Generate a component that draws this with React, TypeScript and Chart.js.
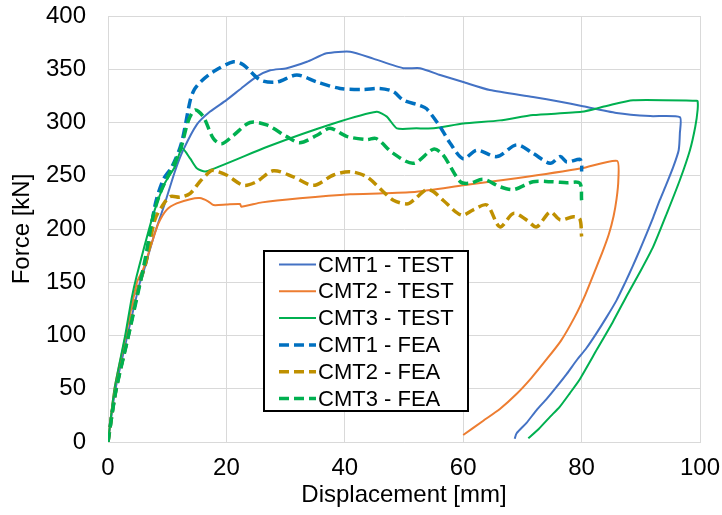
import React, { useEffect, useRef } from 'react';
import { Chart, registerables } from 'chart.js';

Chart.register(...registerables);

// ---- Data (displacement [mm], force [kN]) ----
const seriesLabels = ['CMT1 - TEST', 'CMT2 - TEST', 'CMT3 - TEST', 'CMT1 - FEA', 'CMT2 - FEA', 'CMT3 - FEA'];

const cmt1TestX = [0, 1.2, 3.2, 5.3, 6.0, 7.9, 9.6, 11.3, 12.7, 15, 17.2, 20, 22.5, 25.1, 27.4, 30.2, 33.6, 36.9, 40.9, 44.8, 49.9, 52.7, 56.1, 60, 64.5, 71.8, 76.4, 80, 85.9, 91.6, 96.6, 96.6, 96.4, 95.5, 94.4, 93.2, 92.1, 91, 89.8, 88.6, 87.3, 85.9, 84.2, 82.5, 80.8, 79.2, 77.5, 75.8, 74.1, 72.4, 70.7, 69, 68.7];
const cmt1TestY = [0, 48, 98, 148, 160, 196, 224, 254, 274, 298, 310, 321, 332, 343, 349, 351, 357, 365, 366.5, 360, 351, 351, 344.6, 338, 330.5, 324, 319.5, 315.5, 309, 306, 305, 290, 274, 258.5, 243, 227, 211, 196, 180, 164.6, 149, 133, 117, 102, 88, 77, 64, 52, 40.5, 30, 18, 8, 3];

const cmt2TestX = [0, 1.1, 3.0, 4.9, 6.0, 7.4, 8.5, 9.9, 11.6, 13.9, 15.5, 16.9, 17.8, 20, 22.3, 22.5, 26, 32.4, 40.9, 46.5, 52.1, 60, 69, 80, 86, 86.2, 85.9, 85.4, 84.6, 83.5, 82.2, 80.6, 78.8, 76.5, 74, 71.5, 69, 66.2, 63.4, 60];
const cmt2TestY = [0, 50, 100, 150, 163, 187, 205, 218, 224, 228, 229, 226, 222.5, 223, 223.5, 221, 225, 228.8, 232.6, 233.5, 235, 241, 247.6, 257, 264, 245, 228, 212, 195, 178, 160, 138, 117, 95, 77, 60, 45, 31, 20, 6.6];

const cmt3TestX = [0, 1.1, 2.9, 4.0, 4.8, 7.7, 9.6, 11.3, 12.5, 13.9, 15, 16.5, 26.8, 38.1, 45.4, 47.1, 48.8, 52.1, 55, 60, 66.2, 71.8, 80, 84.2, 88.7, 99.4, 99.6, 99.6, 99.2, 98.3, 96.6, 94.4, 92.1, 90, 87.8, 85.3, 82.6, 79.7, 78, 76.3, 74.7, 72.8, 71];
const cmt3TestY = [0, 50, 100, 135, 155, 214.7, 243, 258.5, 276, 266, 257, 254, 277, 299, 310, 305.5, 294.5, 294.5, 294.5, 299, 302, 307, 310, 315.5, 321, 320.5, 320, 312, 296, 274, 246, 214.7, 183.4, 161, 139, 113, 87, 59, 45.7, 33, 23.8, 12.5, 3.5];

const cmt1FeaX = [0, 1.3, 3.3, 5.3, 6.5, 7.9, 9.3, 10.8, 12.4, 13.9, 14.6, 15.8, 17.8, 21.2, 22.9, 25.7, 28.5, 31.9, 35.3, 39.2, 43.1, 45.9, 48.2, 49.9, 52.7, 53.8, 56.1, 57.8, 60, 62.3, 65.7, 69, 71.8, 74.7, 76.4, 77.5, 79.7, 80, 80];
const cmt1FeaY = [0, 48, 97, 148, 171, 221, 246, 258.5, 280.5, 321, 331, 339, 347.7, 357, 354, 340, 338, 344.6, 338, 332, 331, 332, 329, 321, 316, 313, 296, 280.5, 266, 274, 268, 279, 271, 261.7, 268, 263, 265.4, 262, 254];

const cmt2FeaX = [0, 1.3, 3.3, 5.3, 6.5, 7.9, 9.1, 10.5, 12.2, 13.9, 15.5, 17.2, 17.8, 20, 22.9, 25.1, 27.9, 31.3, 34.7, 38.1, 40.9, 43.7, 46.5, 48.2, 50.5, 51.6, 53.8, 55, 56.6, 59.7, 61.7, 64, 66.2, 68.5, 70.7, 72.4, 74.7, 76.4, 78.6, 79.7, 80];
const cmt2FeaY = [0, 48, 97, 148, 171, 208.5, 221, 230.4, 229.8, 233.5, 244.4, 253.8, 255, 250.7, 241, 244.4, 254.7, 249, 241, 250.7, 253.8, 249, 235, 227, 223.5, 227, 237, 235, 227, 213, 218, 222.5, 202, 214.7, 208.5, 202, 216, 208.5, 211.5, 209.5, 193];

const cmt3FeaX = [0, 1.3, 3.3, 5.3, 6.25, 7.6, 8.8, 10.5, 12.2, 13.6, 14.7, 16.1, 17.8, 19.2, 21.2, 24, 26.8, 30.2, 32.4, 35.3, 37.5, 40.3, 43.7, 45.3, 48.2, 51.6, 55, 56.6, 59.5, 61.1, 63.4, 66.2, 68.5, 71.8, 74.7, 77.5, 79.7, 80];
const cmt3FeaY = [0, 47, 96, 146, 171, 211.5, 233.5, 253.8, 274, 302, 311.7, 305.5, 285, 280, 288, 300, 297.7, 286.7, 281, 288, 294.5, 287, 284, 285, 271, 261.7, 275, 269.5, 244.4, 243, 246.7, 239.7, 237, 244.4, 244.4, 243.5, 243, 227];

const xTickMin = 0;
const xTickMax = 100;
const xTickStep = 20;
const yTickMin = 0;
const yTickMax = 400;
const yTickStep = 50;

const FONT = "'Liberation Sans', Arial, sans-serif";

function pts(xs: number[], ys: number[]) {
  return xs.map((x, i) => ({ x, y: ys[i] }));
}

const legendPlugin = {
  id: 'boxLegend',
  afterDraw(chart: any) {
    const ctx = chart.ctx as CanvasRenderingContext2D;
    const bx = 263, by = 250, bw = 206, bh = 162;
    ctx.save();
    ctx.fillStyle = '#ffffff';
    ctx.fillRect(bx, by, bw, bh);
    ctx.lineWidth = 2;
    ctx.strokeStyle = '#000000';
    ctx.strokeRect(bx + 1, by + 1, bw - 2, bh - 2);
    ctx.font = `22px ${FONT}`;
    ctx.textBaseline = 'middle';
    ctx.textAlign = 'left';
    chart.data.datasets.forEach((ds: any, i: number) => {
      const y = 264.5 + i * 26.8;
      ctx.beginPath();
      ctx.strokeStyle = ds.borderColor;
      ctx.lineWidth = ds.borderWidth;
      ctx.setLineDash(ds.borderDash || []);
      ctx.moveTo(279, y);
      ctx.lineTo(316, y);
      ctx.stroke();
      ctx.setLineDash([]);
      ctx.fillStyle = '#000000';
      ctx.fillText(ds.label, 318, y + 1);
    });
    ctx.restore();
  },
};

export default function App() {
  const ref = useRef<HTMLCanvasElement | null>(null);

  useEffect(() => {
    document.body.style.margin = '0';
    if (!ref.current) return;
    const solid = (label: string, color: string, data: any[], order: number) => ({
      label, data, borderColor: color, backgroundColor: color, borderWidth: 2,
      pointRadius: 0, tension: 0.2, fill: false, order,
    });
    const dashed = (label: string, color: string, data: any[], order: number) => ({
      label, data, borderColor: color, backgroundColor: color, borderWidth: 3.5,
      borderDash: [10, 5], pointRadius: 0, tension: 0.3, fill: false, order,
    });
    const chart = new Chart(ref.current, {
      type: 'line',
      data: {
        datasets: [
          solid(seriesLabels[0], '#4472C4', pts(cmt1TestX, cmt1TestY), 6),
          solid(seriesLabels[1], '#ED7D31', pts(cmt2TestX, cmt2TestY), 5),
          solid(seriesLabels[2], '#00B050', pts(cmt3TestX, cmt3TestY), 4),
          dashed(seriesLabels[3], '#0070C0', pts(cmt1FeaX, cmt1FeaY), 3),
          dashed(seriesLabels[4], '#BF9000', pts(cmt2FeaX, cmt2FeaY), 2),
          dashed(seriesLabels[5], '#00B050', pts(cmt3FeaX, cmt3FeaY), 1),
        ] as any,
      },
      options: {
        responsive: false,
        animation: false,
        parsing: false as any,
        layout: { padding: { top: 16, right: 22, left: 0, bottom: 0 } },
        plugins: { legend: { display: false }, tooltip: { enabled: false }, title: { display: false } },
        scales: {
          x: {
            type: 'linear',
            min: xTickMin,
            max: xTickMax,
            ticks: { stepSize: xTickStep, padding: 0, color: '#000', font: { family: FONT, size: 24 } },
            grid: { color: '#d9d9d9', lineWidth: 1, drawTicks: true, tickLength: 12, tickColor: 'rgba(0,0,0,0)' },
            border: { color: '#d9d9d9', width: 1 },
            title: { display: true, text: 'Displacement [mm]', color: '#000', font: { family: FONT, size: 24 }, padding: { top: 0, bottom: 5 } },
            afterFit(scale: any) { scale.height = 73; },
          },
          y: {
            type: 'linear',
            min: yTickMin,
            max: yTickMax,
            ticks: { stepSize: yTickStep, padding: 0, color: '#000', font: { family: FONT, size: 24 } },
            grid: { color: '#d9d9d9', lineWidth: 1, drawTicks: true, tickLength: 22, tickColor: 'rgba(0,0,0,0)' },
            border: { color: '#d9d9d9', width: 1 },
            title: { display: true, text: 'Force [kN]', color: '#000', font: { family: FONT, size: 24 }, padding: { top: 8, bottom: 0 } },
            afterFit(scale: any) { scale.width = 108; },
          },
        },
      } as any,
      plugins: [legendPlugin],
    });
    return () => chart.destroy();
  }, []);

  return (
    <div style={{ position: 'absolute', left: 0, top: 0, width: 722, height: 515, background: '#fff' }}>
      <canvas ref={ref} width={722} height={515} />
    </div>
  );
}
